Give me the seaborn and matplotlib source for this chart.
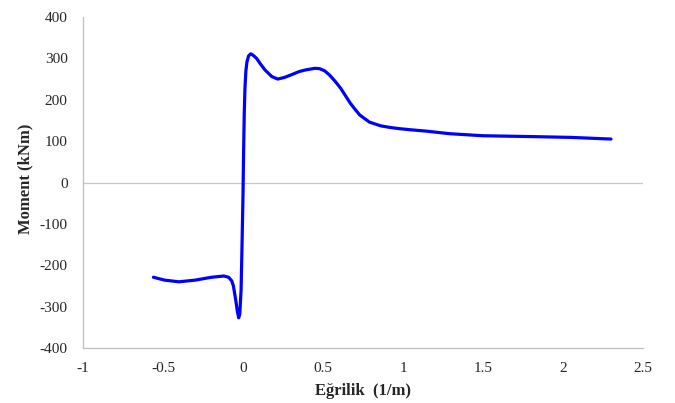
import matplotlib
matplotlib.use("Agg")
import matplotlib.pyplot as plt
import seaborn as sns
import pandas as pd

# Moment-curvature response
egrilik = [-0.56, -0.49, -0.40, -0.30, -0.196, -0.12, -0.09, -0.07, -0.06, -0.045,
           -0.035, -0.027, -0.02, -0.012, -0.006, 0.0, 0.004, 0.008, 0.0125, 0.018,
           0.025, 0.035, 0.048, 0.062, 0.085, 0.11, 0.1375, 0.18, 0.217, 0.26,
           0.30, 0.35, 0.39, 0.45, 0.48, 0.51, 0.54, 0.575, 0.61, 0.64,
           0.67, 0.70, 0.73, 0.79, 0.86, 0.92, 0.98, 1.06, 1.15, 1.29,
           1.50, 1.80, 2.05, 2.30]
moment = [-229, -236, -240, -236, -229, -226, -229, -238, -250, -285,
          -312, -327, -318, -260, -150, -30, 80, 170, 230, 270,
          292, 306, 311, 308, 300, 286, 272, 256, 250, 254,
          260, 268, 272, 276, 275, 270, 260, 245, 228, 210,
          192, 177, 163, 146, 137, 133, 130, 127, 124, 118,
          113, 111, 109, 105]

x_ticks = [-1, -0.5, 0, 0.5, 1, 1.5, 2, 2.5]
x_tick_labels = ["-1", "-0.5", "0", "0.5", "1", "1.5", "2", "2.5"]
y_ticks = [-400, -300, -200, -100, 0, 100, 200, 300, 400]

df = pd.DataFrame({"Eğrilik": egrilik, "Moment": moment})

sns.set_style("white")
plt.rcParams["font.family"] = ["Liberation Serif", "DejaVu Serif"]
plt.rcParams["axes.unicode_minus"] = False

fig = plt.figure(figsize=(6.75, 4.03), dpi=100)
ax = fig.add_axes([83 / 675, 1 - 348 / 403, (643 - 83) / 675, (348 - 17) / 403])

ax.axhline(0, color="#c8c8c8", lw=0.9, zorder=1)
sns.lineplot(data=df, x="Eğrilik", y="Moment", sort=False, estimator=None,
             color="#0000ff", lw=2.3, ax=ax, zorder=3,
             solid_joinstyle="round", solid_capstyle="round")

ax.set_xlim(-1, 2.5)
ax.set_ylim(-400, 400)
ax.set_xticks(x_ticks)
ax.set_xticklabels(x_tick_labels)
ax.set_yticks(y_ticks)

for side in ["top", "right"]:
    ax.spines[side].set_visible(False)
for side in ["left", "bottom"]:
    ax.spines[side].set_color("#bfbfbf")
    ax.spines[side].set_linewidth(0.9)

ax.tick_params(axis="both", length=0, labelsize=11, colors="#262626")
ax.tick_params(axis="y", pad=11)
ax.tick_params(axis="x", pad=10)

ax.set_xlabel("Eğrilik  (1/m)", fontsize=12, fontweight="bold", labelpad=6, color="#262626")
ax.set_ylabel("Moment (kNm)", fontsize=12, fontweight="bold", color="#262626")
ax.yaxis.set_label_coords(-0.088, 0.51)

fig.savefig("out.png", dpi=100)
